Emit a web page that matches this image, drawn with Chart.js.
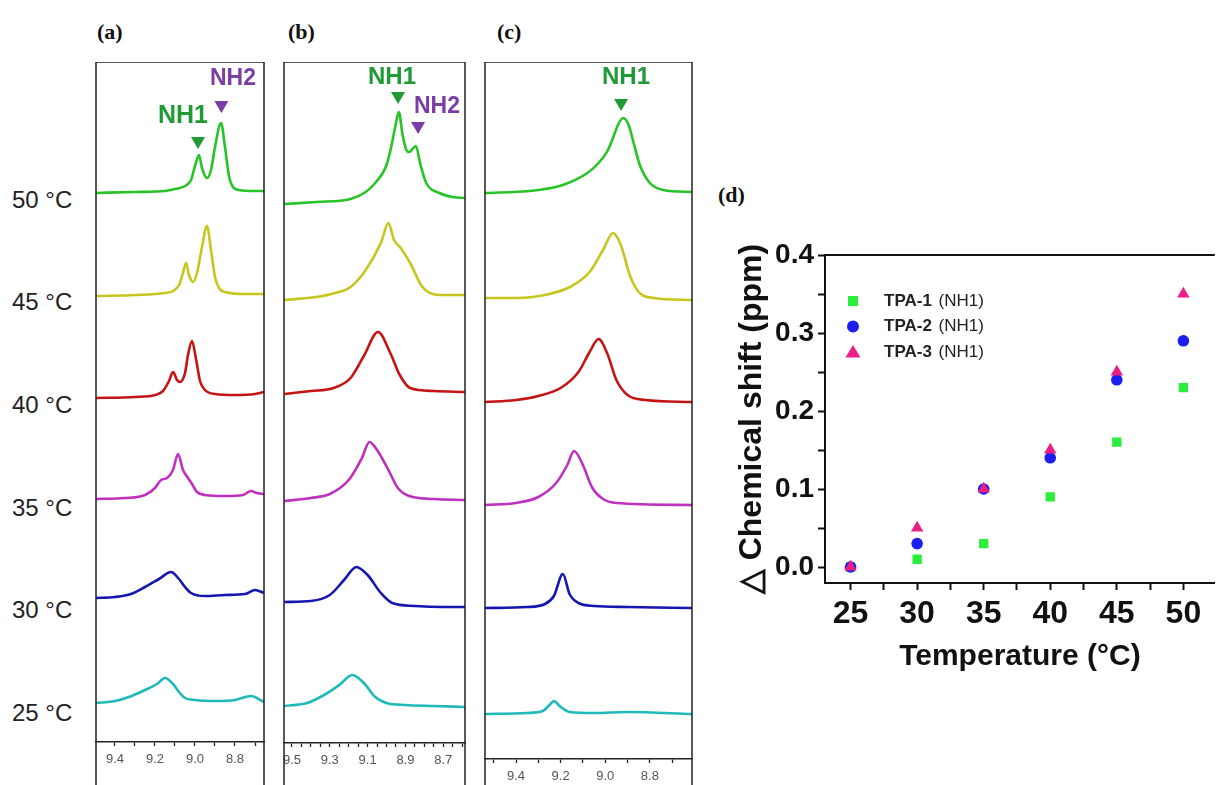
<!DOCTYPE html>
<html>
<head>
<meta charset="utf-8">
<script src="https://cdn.jsdelivr.net/npm/chart.js@4.4.1/dist/chart.umd.min.js"></script>
<style>
  html, body { margin: 0; padding: 0; background: #fff; }
  body { width: 1222px; height: 785px; overflow: hidden; position: relative; font-family: "Liberation Sans", Arial, sans-serif; }
  .box { position: absolute; }
  .tag { position: absolute; font: bold 22px/22px "Liberation Serif", "Times New Roman", serif; color: #111; }
  .temp { position: absolute; left: 12px; font-size: 24px; line-height: 24px; color: #222; }
</style>
</head>
<body>
<div class="tag" style="left:97px;top:21px">(a)</div>
<div class="tag" style="left:288px;top:21px">(b)</div>
<div class="tag" style="left:497px;top:21px">(c)</div>
<div class="tag" style="left:718px;top:184px">(d)</div>
<div id="temps"></div>

<div class="box" style="left:94px;top:62px"><canvas id="cA" width="172" height="760"></canvas></div>
<div class="box" style="left:282px;top:62px"><canvas id="cB" width="185" height="760"></canvas></div>
<div class="box" style="left:483px;top:62px"><canvas id="cC" width="211" height="760"></canvas></div>
<div class="box" style="left:730px;top:230px"><canvas id="cD" width="492" height="470"></canvas></div>

<script>
// ---- temperatures (rows top -> bottom) ----
const TEMP_LABELS = ['50 °C', '45 °C', '40 °C', '35 °C', '30 °C', '25 °C'];
const TEMP_ROW_Y = [200, 302, 405, 508, 610, 713];
const TRACE_COLORS = ['#27c427', '#c6c61e', '#c41414', '#bf30bf', '#1616b0', '#1fb9b9'];

// ---- panel (a): [ppm, intensity above baseline] ----
const A50 = [[9.50,-1],[9.30,0],[9.15,1],[9.10,3],[9.05,6],[9.02,12],[9.00,26],[8.98,37],[8.965,24],[8.94,14],[8.92,22],[8.90,45],[8.87,69],[8.85,45],[8.83,16],[8.81,5],[8.78,2],[8.70,1],[8.655,1]];
const A45 = [[9.50,-1],[9.30,0],[9.15,2],[9.11,4],[9.08,10],[9.06,22],[9.045,32],[9.03,20],[9.01,13],[8.99,22],[8.965,48],[8.94,69],[8.92,45],[8.90,18],[8.88,7],[8.85,3],[8.75,1],[8.655,1]];
const A40 = [[9.50,-1],[9.30,0],[9.20,2],[9.16,6],[9.13,16],[9.11,25],[9.09,17],[9.075,15],[9.05,24],[9.035,42],[9.015,56],[8.995,38],[8.975,16],[8.95,7],[8.90,3],[8.80,2],[8.70,3],[8.655,5]];
const A35 = [[9.50,-1],[9.35,0],[9.25,3],[9.20,10],[9.17,18],[9.14,20],[9.11,28],[9.085,44],[9.06,28],[9.035,20],[9.015,14],[8.99,6],[8.95,3],[8.85,2],[8.76,3],[8.72,7],[8.69,5],[8.655,4]];
const A30 = [[9.50,-1],[9.40,0],[9.32,3],[9.25,10],[9.18,18],[9.12,25],[9.08,18],[9.05,10],[9.02,4],[8.95,1],[8.85,2],[8.75,3],[8.70,7],[8.655,4]];
const A25 = [[9.50,-1],[9.40,1],[9.33,5],[9.25,12],[9.19,18],[9.15,24],[9.11,18],[9.08,10],[9.05,4],[9.00,2],[8.90,1],[8.80,2],[8.72,6],[8.655,0]];
const BASE_A = [550, 447, 345, 244, 145, 40];
const TICKS_A = [9.4, 9.3, 9.2, 9.1, 9.0, 8.9, 8.8, 8.7];
const LABELS_A = ['9.4', '', '9.2', '', '9.0', '', '8.8', ''];

// ---- panel (b) ----
const B50 = [[9.54,-1],[9.37,1],[9.19,4],[9.11,11],[9.06,20],[9.02,30],[9.00,38],[8.98,52],[8.955,75],[8.935,91],[8.915,68],[8.895,53],[8.88,51],[8.845,57],[8.82,38],[8.79,20],[8.72,10],[8.65,6],[8.585,5]];
const B45 = [[9.54,0],[9.37,3],[9.27,7],[9.19,13],[9.11,30],[9.03,57],[8.99,77],[8.96,60],[8.925,52],[8.875,37],[8.81,13],[8.72,5],[8.585,5]];
const B40 = [[9.54,-1],[9.40,2],[9.28,5],[9.19,15],[9.12,37],[9.045,61],[8.98,40],[8.93,18],[8.875,5],[8.75,2],[8.585,1]];
const B35 = [[9.54,-1],[9.40,2],[9.30,6],[9.20,20],[9.13,42],[9.09,58],[9.05,50],[8.99,30],[8.94,12],[8.88,4],[8.75,1],[8.585,0]];
const B30 = [[9.54,5],[9.40,6],[9.30,12],[9.22,28],[9.16,40],[9.10,32],[9.03,14],[8.97,4],[8.85,1],[8.70,0],[8.585,0]];
const B25 = [[9.54,1],[9.42,4],[9.33,12],[9.25,22],[9.18,32],[9.12,24],[9.06,10],[9.00,4],[8.90,2],[8.75,1],[8.585,0]];
const BASE_B = [540, 443, 350, 243, 136, 36];
const TICKS_B = [9.5, 9.45, 9.4, 9.35, 9.3, 9.25, 9.2, 9.15, 9.1, 9.05, 9.0, 8.95, 8.9, 8.85, 8.8, 8.75, 8.7, 8.65, 8.6];
const LABELS_B = ['9.5', '', '', '', '9.3', '', '', '', '9.1', '', '', '', '8.9', '', '', '', '8.7', '', ''];

// ---- panel (c) ----
const C50 = [[9.54,0],[9.41,1],[9.30,3],[9.19,8],[9.08,20],[9.03,30],[8.99,42],[8.965,55],[8.945,67],[8.92,75],[8.895,68],[8.875,52],[8.845,28],[8.80,10],[8.74,3],[8.611,1]];
const C45 = [[9.54,2],[9.40,2],[9.25,6],[9.15,14],[9.07,28],[9.01,50],[8.965,67],[8.93,55],[8.89,25],[8.85,8],[8.78,2],[8.611,0]];
const C40 = [[9.54,0],[9.40,2],[9.30,6],[9.20,14],[9.12,30],[9.07,50],[9.03,63],[8.99,48],[8.95,22],[8.90,7],[8.82,2],[8.611,0]];
const C35 = [[9.54,0],[9.40,2],[9.30,8],[9.22,22],[9.17,40],[9.14,54],[9.10,40],[9.06,18],[9.01,6],[8.95,2],[8.611,0]];
const C30 = [[9.54,0],[9.35,1],[9.27,4],[9.23,12],[9.19,34],[9.16,14],[9.12,5],[9.05,2],[8.90,1],[8.611,0]];
const C25 = [[9.54,0],[9.35,1],[9.28,3],[9.25,9],[9.23,13],[9.20,7],[9.16,2],[9.05,1],[8.90,2],[8.611,0]];
const BASE_C = [566, 459, 357, 254, 151, 45];
const TICKS_C = [9.5, 9.4, 9.3, 9.2, 9.1, 9.0, 8.9, 8.8, 8.7];
const LABELS_C = ['', '9.4', '', '9.2', '', '9.0', '', '8.8', ''];

// ---- panel (d) ----
const TEMPS = [25, 30, 35, 40, 45, 50];
const TPA1 = [0.00, 0.01, 0.03, 0.09, 0.16, 0.23];
const TPA2 = [0.00, 0.03, 0.10, 0.14, 0.24, 0.29];
const TPA3 = [0.00, 0.05, 0.10, 0.15, 0.25, 0.35];
const D_X_TICKS = [25, 27.5, 30, 32.5, 35, 37.5, 40, 42.5, 45, 47.5, 50];
const D_X_LABELS = ['25', '', '30', '', '35', '', '40', '', '45', '', '50'];
const D_Y_TICKS = [0, 0.05, 0.1, 0.15, 0.2, 0.25, 0.3, 0.35, 0.4];
const D_Y_LABELS = ['0.0', '', '0.1', '', '0.2', '', '0.3', '', '0.4'];

const GREEN_MARK = '#1f9a35';
const PURPLE_MARK = '#7a3ea6';
const SANS = '"Liberation Sans", Arial, sans-serif';

document.getElementById('temps').innerHTML = TEMP_LABELS
  .map((t, i) => `<div class="temp" style="top:${TEMP_ROW_Y[i] - 12}px">${t}</div>`).join('');

const framePlugin = {
  id: 'frame',
  afterDraw(chart) {
    const { ctx, chartArea: a, height } = chart;
    ctx.save();
    ctx.strokeStyle = '#222';
    ctx.lineWidth = 1.5;
    ctx.beginPath();
    ctx.moveTo(a.left, height);
    ctx.lineTo(a.left, a.top);
    ctx.lineTo(a.right, a.top);
    ctx.lineTo(a.right, height);
    ctx.stroke();
    ctx.restore();
  }
};

function marksPlugin(list) {
  return {
    id: 'marks',
    afterDatasetsDraw(chart) {
      const { ctx, scales: { x, y } } = chart;
      ctx.save();
      list.forEach(m => {
        const px = x.getPixelForValue(m.ppm);
        const py = y.getPixelForValue(m.at);
        ctx.fillStyle = m.color;
        if (m.text) {
          ctx.font = `bold ${m.size}px ${SANS}`;
          ctx.textAlign = 'center';
          ctx.textBaseline = 'middle';
          ctx.fillText(m.text, px, py);
        } else {
          ctx.beginPath();
          ctx.moveTo(px - 7, py - 6);
          ctx.lineTo(px + 7, py - 6);
          ctx.lineTo(px, py + 6);
          ctx.closePath();
          ctx.fill();
        }
      });
      ctx.restore();
    }
  };
}

function spectrumChart(id, cfg) {
  return new Chart(document.getElementById(id), {
    type: 'line',
    data: {
      datasets: cfg.series.map((s, i) => ({
        data: s.map(([p, h]) => ({ x: p, y: cfg.base[i] + h })),
        borderColor: TRACE_COLORS[i],
        borderWidth: 2.6,
        pointRadius: 0,
        cubicInterpolationMode: 'monotone',
        fill: false,
      })),
    },
    options: {
      responsive: false,
      animation: false,
      events: [],
      layout: { padding: { left: 2, right: 2, top: 0, bottom: 0 } },
      plugins: { legend: { display: false }, tooltip: { enabled: false } },
      scales: {
        x: {
          type: 'linear', reverse: true, min: cfg.min, max: cfg.max,
          afterBuildTicks: s => { s.ticks = cfg.ticks.map(v => ({ value: v })); },
          afterFit: s => { s.height = cfg.axisH; s.paddingLeft = 0; s.paddingRight = 0; },
          ticks: {
            autoSkip: false, maxRotation: 0, padding: 6, color: '#555',
            font: { size: 13, family: SANS },
            callback: (v, i) => cfg.labels[i],
          },
          grid: { drawOnChartArea: false, tickLength: 4, tickColor: '#222', tickWidth: 1.3 },
          border: { display: true, color: '#222', width: 1.5 },
        },
        y: { display: false, min: 0, max: cfg.top },
      },
    },
    plugins: [framePlugin, marksPlugin(cfg.marks)],
  });
}

spectrumChart('cA', {
  series: [A50, A45, A40, A35, A30, A25], base: BASE_A,
  min: 8.655, max: 9.495, top: 680, axisH: 80,
  ticks: TICKS_A, labels: LABELS_A,
  marks: [
    { text: 'NH1', ppm: 9.06, at: 626, size: 25, color: GREEN_MARK },
    { ppm: 8.985, at: 599, color: GREEN_MARK },
    { text: 'NH2', ppm: 8.81, at: 663, size: 23, color: PURPLE_MARK },
    { ppm: 8.868, at: 635, color: PURPLE_MARK },
  ],
});

spectrumChart('cB', {
  series: [B50, B45, B40, B35, B30, B25], base: BASE_B,
  min: 8.585, max: 9.542, top: 681, axisH: 79,
  ticks: TICKS_B, labels: LABELS_B,
  marks: [
    { text: 'NH1', ppm: 8.971, at: 666, size: 24, color: GREEN_MARK },
    { ppm: 8.939, at: 645, color: GREEN_MARK },
    { text: 'NH2', ppm: 8.733, at: 636, size: 23, color: PURPLE_MARK },
    { ppm: 8.833, at: 615, color: PURPLE_MARK },
  ],
});

spectrumChart('cC', {
  series: [C50, C45, C40, C35, C30, C25], base: BASE_C,
  min: 8.611, max: 9.539, top: 697, axisH: 63,
  ticks: TICKS_C, labels: LABELS_C,
  marks: [
    { text: 'NH1', ppm: 8.907, at: 682, size: 24, color: GREEN_MARK },
    { ppm: 8.929, at: 654, color: GREEN_MARK },
  ],
});

/* (d) shift vs temperature */
const topLinePlugin = {
  id: 'topLine',
  afterDraw(chart) {
    const { ctx, chartArea: a } = chart;
    ctx.save();
    ctx.strokeStyle = '#111';
    ctx.lineWidth = 2;
    ctx.beginPath();
    ctx.moveTo(a.left, a.top);
    ctx.lineTo(a.right, a.top);
    ctx.stroke();
    ctx.restore();
  }
};

const tpaLegend = {
  id: 'tpaLegend',
  afterDraw(chart) {
    const { ctx, chartArea: a } = chart;
    ctx.save();
    chart.data.datasets.forEach((ds, i) => {
      const mx = a.left + 28, my = a.top + 46 + i * 25.5;
      ctx.fillStyle = ds.backgroundColor;
      ctx.beginPath();
      if (ds.pointStyle === 'rect') ctx.rect(mx - 5, my - 5, 10, 10);
      else if (ds.pointStyle === 'circle') ctx.arc(mx, my, 6, 0, Math.PI * 2);
      else { ctx.moveTo(mx, my - 7); ctx.lineTo(mx + 7.5, my + 5.5); ctx.lineTo(mx - 7.5, my + 5.5); ctx.closePath(); }
      ctx.fill();
      ctx.fillStyle = '#222';
      ctx.textBaseline = 'middle';
      ctx.textAlign = 'left';
      ctx.font = `bold 17px ${SANS}`;
      const tx = a.left + 59;
      ctx.fillText(ds.label, tx, my);
      const w = ctx.measureText(ds.label + ' ').width;
      ctx.font = `17px ${SANS}`;
      ctx.fillText('(NH1)', tx + w + 2, my);
    });
    ctx.restore();
  }
};

new Chart(document.getElementById('cD'), {
  type: 'scatter',
  data: {
    datasets: [
      { label: 'TPA-1', order: 2, data: TEMPS.map((t, i) => ({ x: t, y: TPA1[i] })), pointStyle: 'rect', pointRadius: 6.6, backgroundColor: '#2bee3c', borderWidth: 0 },
      { label: 'TPA-2', order: 1, data: TEMPS.map((t, i) => ({ x: t, y: TPA2[i] })), pointStyle: 'circle', pointRadius: 5.8, backgroundColor: '#1a1ff0', borderWidth: 0 },
      { label: 'TPA-3', order: 0, data: TEMPS.map((t, i) => ({ x: t, y: TPA3[i] })), pointStyle: 'triangle', pointRadius: 7.2, backgroundColor: '#ec1f86', borderWidth: 0 },
    ],
  },
  options: {
    responsive: false,
    animation: false,
    events: [],
    layout: { padding: { top: 25, left: 0, right: 0, bottom: 0 } },
    plugins: { legend: { display: false }, tooltip: { enabled: false } },
    scales: {
      x: {
        type: 'linear', min: 23.08, max: 52.36,
        afterBuildTicks: s => { s.ticks = D_X_TICKS.map(v => ({ value: v })); },
        afterFit: s => { s.height = 117; s.paddingLeft = 0; s.paddingRight = 0; },
        ticks: { autoSkip: false, maxRotation: 0, padding: 5, color: '#111', font: { size: 32, weight: 'bold', family: SANS }, callback: (v, i) => D_X_LABELS[i] },
        grid: { drawOnChartArea: false, tickLength: 7, tickColor: '#111', tickWidth: 2 },
        border: { display: true, color: '#111', width: 2 },
        title: { display: true, text: 'Temperature (°C)', color: '#111', font: { size: 30, weight: 'bold', family: SANS }, padding: { top: 0, bottom: 25 } },
      },
      y: {
        type: 'linear', min: -0.0205, max: 0.4,
        afterBuildTicks: s => { s.ticks = D_Y_TICKS.map(v => ({ value: v })); },
        afterFit: s => { s.width = 95; },
        ticks: { autoSkip: false, padding: 4, color: '#111', font: { size: 28, weight: 'bold', family: SANS }, callback: (v, i) => D_Y_LABELS[i] },
        grid: { drawOnChartArea: false, tickLength: 7, tickColor: '#111', tickWidth: 2 },
        border: { display: true, color: '#111', width: 2 },
        title: { display: true, text: '△ Chemical shift (ppm)', color: '#111', font: { size: 32, weight: 'bold', family: SANS }, padding: { top: 3, bottom: 0 } },
      },
    },
  },
  plugins: [topLinePlugin, tpaLegend],
});
</script>
</body>
</html>
